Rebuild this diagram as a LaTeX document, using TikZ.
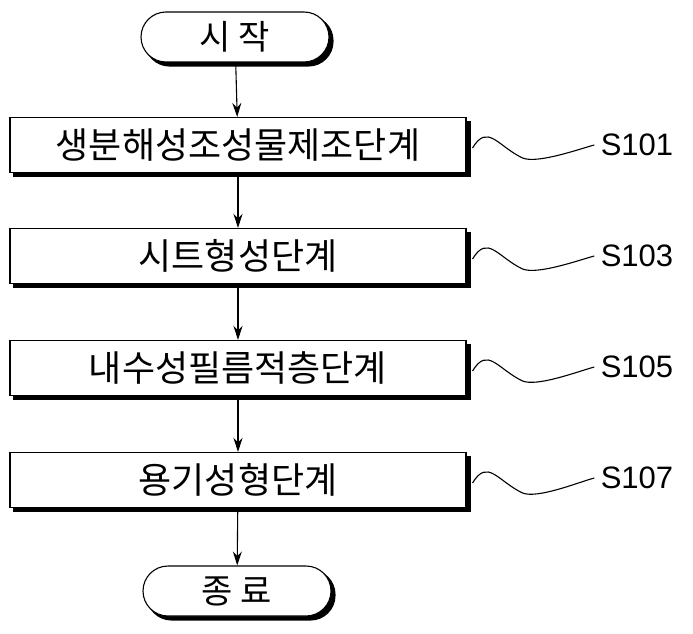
\documentclass[tikz,border=0pt]{standalone}
\usepackage{fontspec}
\newfontfamily\cjk{Noto Sans CJK KR}
\usetikzlibrary{arrows.meta,backgrounds}
\begin{document}
\begin{tikzpicture}[x=1pt,y=-1pt,
  box/.style={draw,line width=1.1pt,fill=white,minimum width=456pt,minimum height=55pt,font=\cjk\fontsize{36}{36}\selectfont,inner sep=0pt},
  term/.style={draw,line width=1.1pt,fill=white,rounded corners=25pt,minimum width=188pt,minimum height=50pt,font=\cjk\fontsize{34}{34}\selectfont,inner sep=0pt},
  shad/.style={fill=black},
  lab/.style={font=\fontspec{Liberation Sans}\fontsize{31}{31}\selectfont},
  arr/.style={-{Stealth[length=14pt,width=9pt]},line width=1.1pt}]
\useasboundingbox (0,0) rectangle (693,634);
\node[term] (s) at (235,37) {시 작};
\node[box] (b1) at (238,145) {생분해성조성물제조단계};
\node[box] (b2) at (238,256) {시트형성단계};
\node[box] (b3) at (238,368) {내수성필름적층단계};
\node[box] (b4) at (238,480) {용기성형단계};
\node[term] (e) at (237,591) {종 료};
\begin{scope}[on background layer]
\foreach \n in {b1,b2,b3,b4} \fill[shad] ([shift={(4,4)}]\n.north west) rectangle ([shift={(4,4)}]\n.south east);
\foreach \n in {s,e} \fill[shad,rounded corners=25pt] ([shift={(4,4)}]\n.north west) rectangle ([shift={(4,4)}]\n.south east);
\end{scope}
\foreach \a/\b in {s/b1,b1/b2,b2/b3,b3/b4,b4/e} \draw[arr] (\a) -- (\b);
\foreach \i/\t in {1/S101,2/S103,3/S105,4/S107}{
  \node[lab] (l\i) at (637,\the\numexpr 34+111*\i\relax) {\t};
  \draw[line width=1.1pt] ([xshift=6pt,yshift=-3pt]b\i.east) .. controls +(15,-25) and +(-25,-12) .. ++(50,10) .. controls +(15,6) and +(-15,4) .. ([xshift=-3pt]l\i.west);
}
\end{tikzpicture}
\end{document}
